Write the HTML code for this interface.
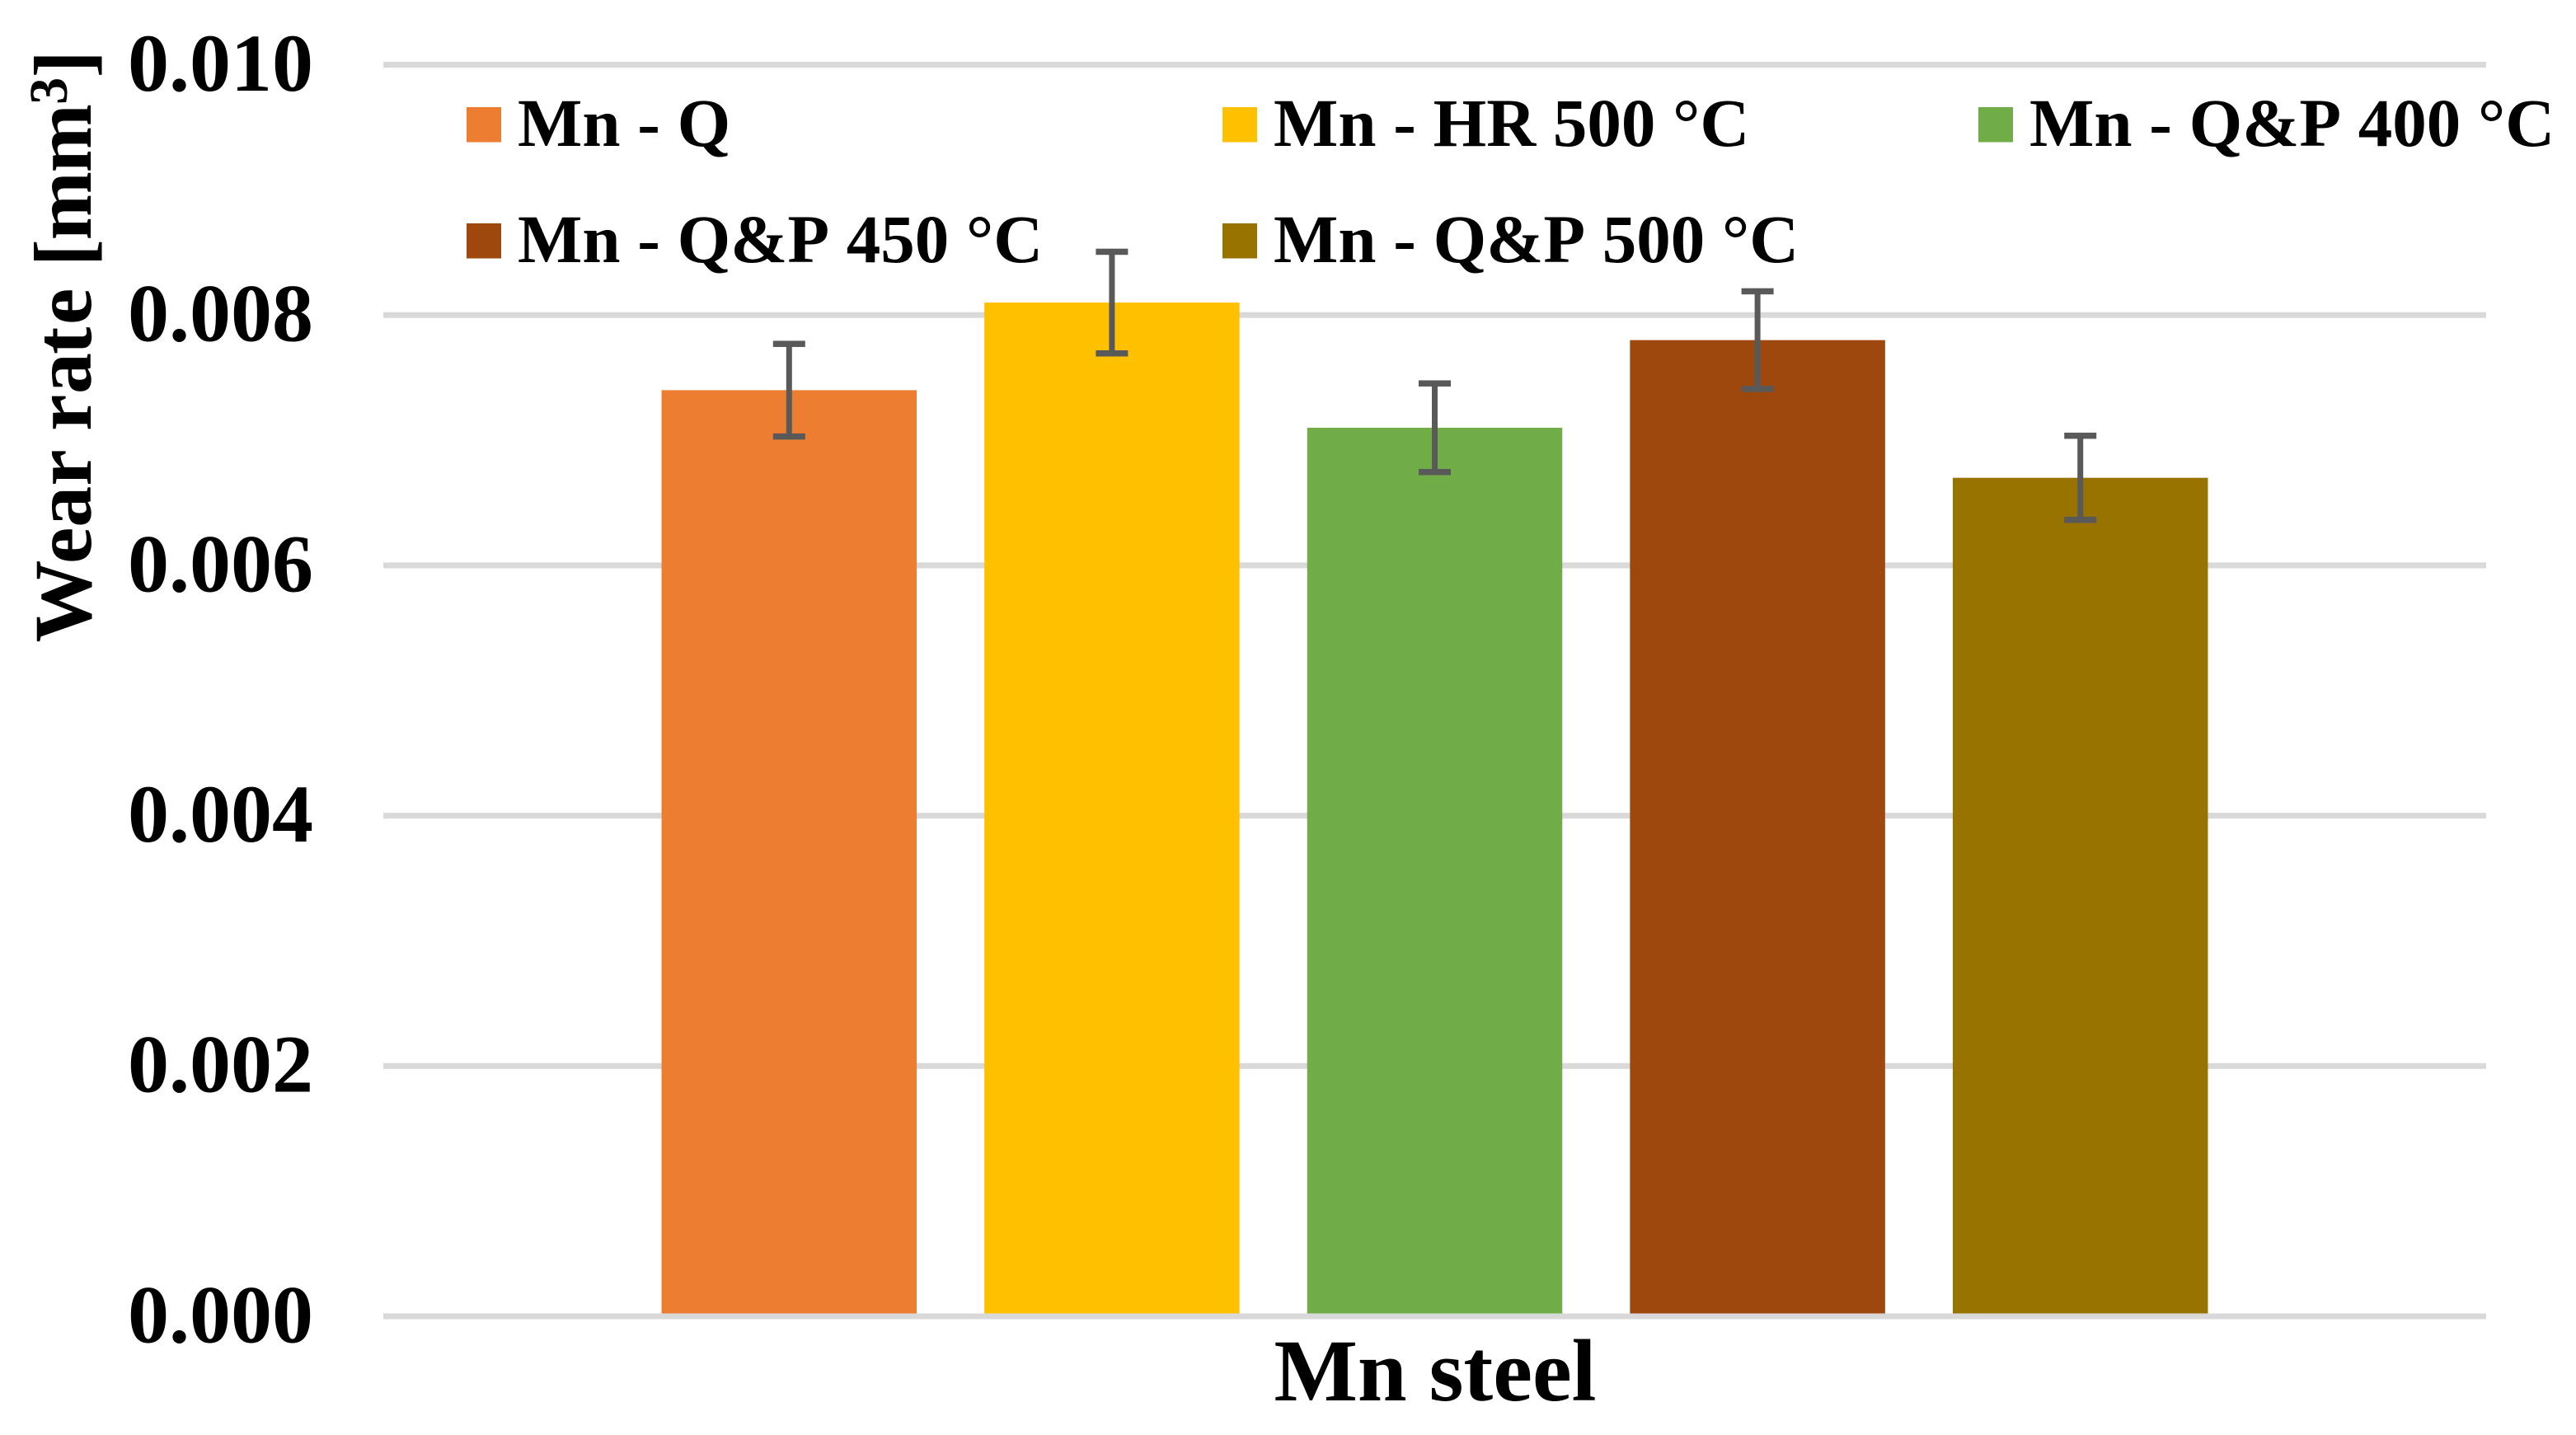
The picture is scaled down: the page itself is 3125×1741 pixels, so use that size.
<!DOCTYPE html>
<html lang="en">
<head>
<meta charset="utf-8">
<title>Wear rate of Mn steel</title>
<style>
html,body{margin:0;padding:0;background:#fff;width:3125px;height:1741px;overflow:hidden}
svg{display:block}
text{font-family:"Liberation Serif",serif;font-weight:bold;fill:#000;font-kerning:none}
</style>
</head>
<body>
<svg id="chart" xmlns="http://www.w3.org/2000/svg" width="3125" height="1741" viewBox="0 0 3125 1741">
  <rect x="0" y="0" width="3125" height="1741" fill="#ffffff"/>
  <g id="grid"></g>
  <g id="bars"></g>
  <g id="zero"></g>
  <g id="errs"></g>
  <g id="ticks"></g>
  <g id="legend"></g>
  <text transform="translate(110,779.5) rotate(-90)" font-size="100" x="0 95.5 139.8 189.9 234 256.6 301.5 349.5 385.5 430 456.1 488.1 570.1">Wear rate [mm<tspan font-size="66" x="652.6" dy="-29">3</tspan><tspan x="685.1" dy="29">]</tspan></text>
  <text x="1741" y="1699" font-size="107.5" text-anchor="middle">Mn steel</text>
</svg>
<script>
const seriesNames = ["Mn - Q", "Mn - HR 500 °C", "Mn - Q&P 400 °C", "Mn - Q&P 450 °C", "Mn - Q&P 500 °C"];
const wearRates = [0.0074, 0.0081, 0.0071, 0.0078, 0.0067];
const wearErrors = [0.00037, 0.000406, 0.000354, 0.00039, 0.000336];
const seriesColors = ["#ED7D31", "#FFC000", "#70AD47", "#9E480E", "#997300"];
const tickValues = [0, 0.002, 0.004, 0.006, 0.008, 0.01];
const tickLabels = ["0.000", "0.002", "0.004", "0.006", "0.008", "0.010"];

const NS = "http://www.w3.org/2000/svg";
const plot = {left: 465, right: 3016, zeroY: 1597, topY: 78.6, yMax: 0.01};
const yScale = v => plot.zeroY - (v / plot.yMax) * (plot.zeroY - plot.topY);
const groupCenter = 1740.5, pitch = 391.6, barWidth = 309.5;
const xScale = i => groupCenter + (i - (wearRates.length - 1) / 2) * pitch;

function make(tag, attrs, parent) {
  const el = document.createElementNS(NS, tag);
  for (const k in attrs) el.setAttribute(k, attrs[k]);
  parent.appendChild(el);
  return el;
}

const gridG = document.getElementById("grid");
const zeroG = document.getElementById("zero");
const ticksG = document.getElementById("ticks");
tickValues.forEach((v, i) => {
  const y = yScale(v);
  const line = make("rect", {x: plot.left, y: y - 3.5, width: plot.right - plot.left, height: 7, fill: "#D9D9D9"}, v === 0 ? zeroG : gridG);
  
  
  const t = make("text", {x: 380, y: y + 31.3, "font-size": 100, "text-anchor": "end"}, ticksG);
  
  
  t.textContent = tickLabels[i];
});

const barsG = document.getElementById("bars");
const errsG = document.getElementById("errs");
wearRates.forEach((v, i) => {
  const cx = xScale(i), top = yScale(v);
  const bar = make("rect", {x: cx - barWidth / 2, y: top, width: barWidth, height: plot.zeroY - top, fill: seriesColors[i]}, barsG);
  
  
  const hi = yScale(v + wearErrors[i]), lo = yScale(v - wearErrors[i]);
  const err = make("g", {fill: "#595959"}, errsG);
  
  
  make("rect", {x: cx - 3.5, y: hi, width: 7, height: lo - hi}, err);
  make("rect", {x: cx - 19.5, y: hi - 3.75, width: 39, height: 7.5}, err);
  make("rect", {x: cx - 19.5, y: lo - 3.75, width: 39, height: 7.5}, err);
});

const legendColumns = [566, 1483, 2400];
const legendRows = [130, 271];
const legendG = document.getElementById("legend");
seriesNames.forEach((name, i) => {
  const col = i % 3, row = Math.floor(i / 3);
  const entry = make("g", {}, legendG);
  
  
  const sw = make("rect", {x: legendColumns[col], y: legendRows[row], width: 42, height: 42.5, fill: seriesColors[i]}, entry);
  
  
  const t = make("text", {x: legendColumns[col] + 62, y: legendRows[row] + 47, "font-size": 83}, entry);
  
  
  t.textContent = name;
});
</script>
</body>
</html>
